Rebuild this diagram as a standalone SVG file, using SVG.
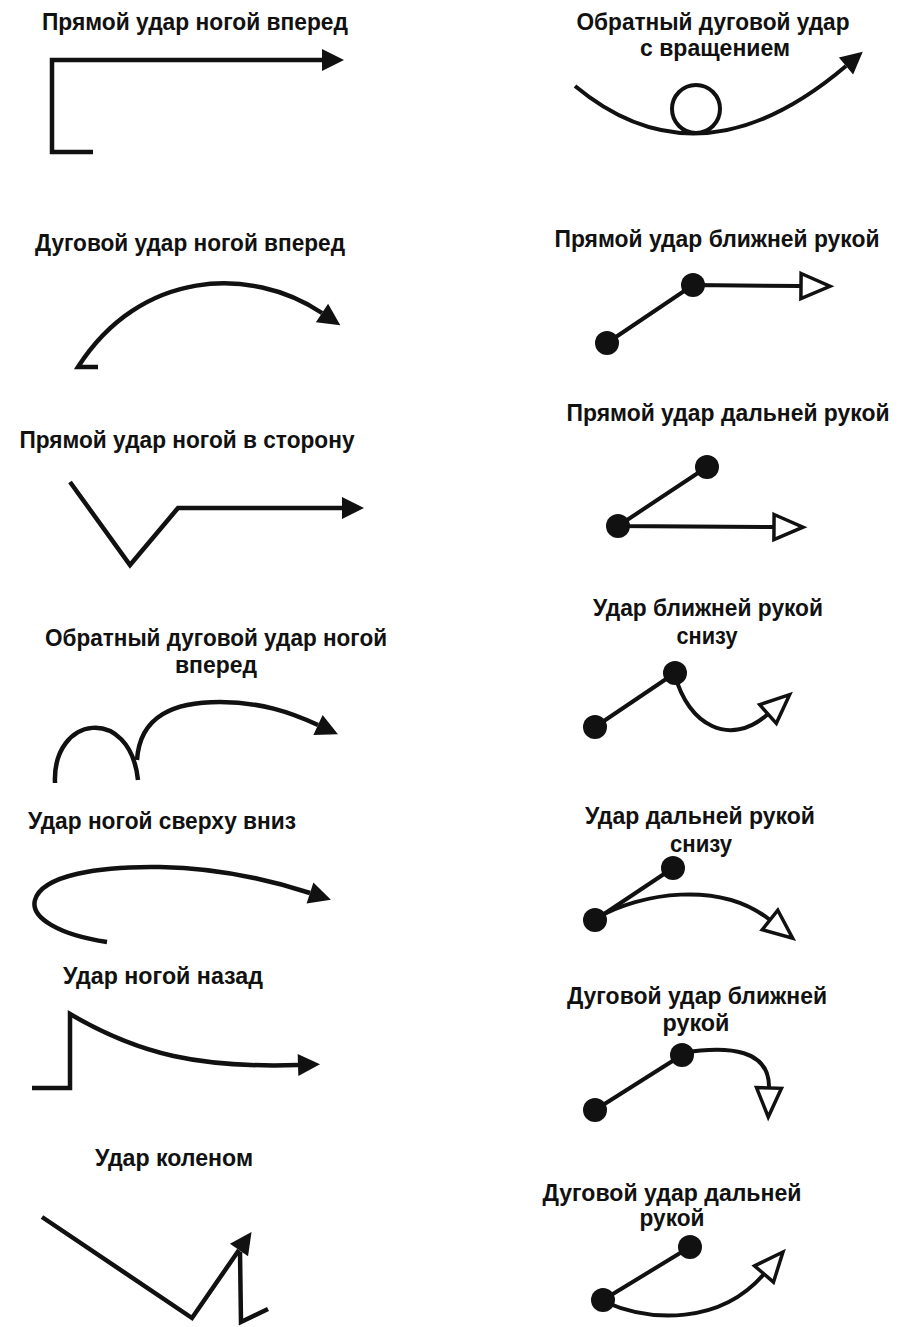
<svg xmlns="http://www.w3.org/2000/svg" width="917" height="1327" viewBox="0 0 917 1327">
<style>
text{font-family:"Liberation Sans",Arial,sans-serif;font-weight:bold;font-size:24px;fill:#111;text-anchor:middle}
.k{fill:none;stroke:#111;stroke-width:4.5;stroke-linejoin:miter;stroke-linecap:butt}
.h{fill:none;stroke:#111;stroke-width:4;stroke-linecap:butt}
.d{fill:#111}
</style>
<defs>
<marker id="fa" markerUnits="userSpaceOnUse" viewBox="-1 -12 25 24" refX="0" refY="0" markerWidth="25" markerHeight="24" orient="auto">
<path d="M0,-11 L22,0 L0,11 Z" fill="#111"/>
</marker>
<marker id="oa" markerUnits="userSpaceOnUse" viewBox="-3 -16 38 32" refX="0" refY="0" markerWidth="38" markerHeight="32" orient="auto">
<path d="M0,-12.5 L29,0 L0,12.5 Z" fill="#fff" stroke="#111" stroke-width="3.5"/>
</marker>
</defs>
<rect width="917" height="1327" fill="#fff"/>

<g id="labels">
<g id="kick-front-straight"><text x="195" y="30" textLength="306" lengthAdjust="spacingAndGlyphs">Прямой удар ногой вперед</text></g>
<g id="kick-front-arc"><text x="190" y="251" textLength="310" lengthAdjust="spacingAndGlyphs">Дуговой удар ногой вперед</text></g>
<g id="kick-side"><text x="187" y="448" textLength="335" lengthAdjust="spacingAndGlyphs">Прямой удар ногой в сторону</text></g>
<g id="kick-reverse-arc"><text x="216" y="646" textLength="342" lengthAdjust="spacingAndGlyphs">Обратный дуговой удар ногой</text><text x="216" y="673" textLength="82" lengthAdjust="spacingAndGlyphs">вперед</text></g>
<g id="kick-down"><text x="162" y="829" textLength="268" lengthAdjust="spacingAndGlyphs">Удар ногой сверху вниз</text></g>
<g id="kick-back"><text x="163" y="984" textLength="200" lengthAdjust="spacingAndGlyphs">Удар ногой назад</text></g>
<g id="knee"><text x="174" y="1166" textLength="158" lengthAdjust="spacingAndGlyphs">Удар коленом</text></g>

<g id="reverse-spin"><text x="713" y="30" textLength="273" lengthAdjust="spacingAndGlyphs">Обратный дуговой удар</text><text x="715" y="56" textLength="150" lengthAdjust="spacingAndGlyphs">с вращением</text></g>
<g id="jab-near"><text x="717" y="247" textLength="325" lengthAdjust="spacingAndGlyphs">Прямой удар ближней рукой</text></g>
<g id="jab-far"><text x="728" y="421" textLength="323" lengthAdjust="spacingAndGlyphs">Прямой удар дальней рукой</text></g>
<g id="upper-near"><text x="708" y="616" textLength="230" lengthAdjust="spacingAndGlyphs">Удар ближней рукой</text><text x="707" y="644" textLength="61" lengthAdjust="spacingAndGlyphs">снизу</text></g>
<g id="upper-far"><text x="700" y="824" textLength="230" lengthAdjust="spacingAndGlyphs">Удар дальней рукой</text><text x="701" y="852" textLength="62" lengthAdjust="spacingAndGlyphs">снизу</text></g>
<g id="hook-near"><text x="697" y="1004" textLength="260" lengthAdjust="spacingAndGlyphs">Дуговой удар ближней</text><text x="696" y="1031" textLength="67" lengthAdjust="spacingAndGlyphs">рукой</text></g>
<g id="hook-far"><text x="672" y="1201" textLength="259" lengthAdjust="spacingAndGlyphs">Дуговой удар дальней</text><text x="672" y="1226" textLength="65" lengthAdjust="spacingAndGlyphs">рукой</text></g>
</g>

<g id="connectors">
<path class="k" d="M93,152 L52,152 L52,60 L322,60" marker-end="url(#fa)"/>
<path class="k" d="M98,367 L78,367 C140,270 250,265 322,313" marker-end="url(#fa)"/>
<path class="k" d="M70,482 L130,565 L178,508 L342,508" marker-end="url(#fa)"/>
<path class="k" d="M55,783 C52,715 130,705 138,780"/>
<path class="k" d="M137,760 C140,715 175,702 220,702 C260,702 290,712 318,725" marker-end="url(#fa)"/>
<path class="k" d="M107,942 C60,935 30,918 35,900 C42,875 100,866 160,867 C220,868 270,880 310,893" marker-end="url(#fa)"/>
<path class="k" d="M32,1088 L70,1088 L70,1014 C140,1055 200,1068 298,1065" marker-end="url(#fa)"/>
<path class="k" d="M42,1217 L192,1318 L239,1250" marker-end="url(#fa)"/>
<path class="k" d="M240,1252 L241,1322 L268,1309"/>

<path class="h" d="M575,86 Q700,190 846,66" marker-end="url(#fa)"/>
<circle cx="696" cy="109" r="24" fill="none" stroke="#111" stroke-width="4"/>

<path class="h" d="M607,343 L693,285 L801,286" marker-end="url(#oa)"/>
<path class="h" d="M707,467 L618,526 L774,527" marker-end="url(#oa)"/>
<path class="h" d="M595,727 L675,673"/>
<path class="h" d="M675,675 C688,725 730,748 768,714" marker-end="url(#oa)"/>
<path class="h" d="M673,868 L595,920"/>
<path class="h" d="M597,918 C640,893 720,880 770,920" marker-end="url(#oa)"/>
<path class="h" d="M595,1110 L682,1055"/>
<path class="h" d="M682,1053 C730,1045 770,1050 769,1088" marker-end="url(#oa)"/>
<path class="h" d="M690,1247 L603,1300"/>
<path class="h" d="M605,1302 C650,1322 720,1325 764,1274" marker-end="url(#oa)"/>

<circle class="d" cx="607" cy="343" r="12"/><circle class="d" cx="693" cy="285" r="12"/>
<circle class="d" cx="707" cy="467" r="12"/><circle class="d" cx="618" cy="526" r="12"/>
<circle class="d" cx="595" cy="727" r="12"/><circle class="d" cx="675" cy="673" r="12"/>
<circle class="d" cx="673" cy="868" r="12"/><circle class="d" cx="595" cy="920" r="12"/>
<circle class="d" cx="595" cy="1110" r="12"/><circle class="d" cx="682" cy="1055" r="12"/>
<circle class="d" cx="690" cy="1247" r="12"/><circle class="d" cx="603" cy="1300" r="12"/>
</g>
</svg>
